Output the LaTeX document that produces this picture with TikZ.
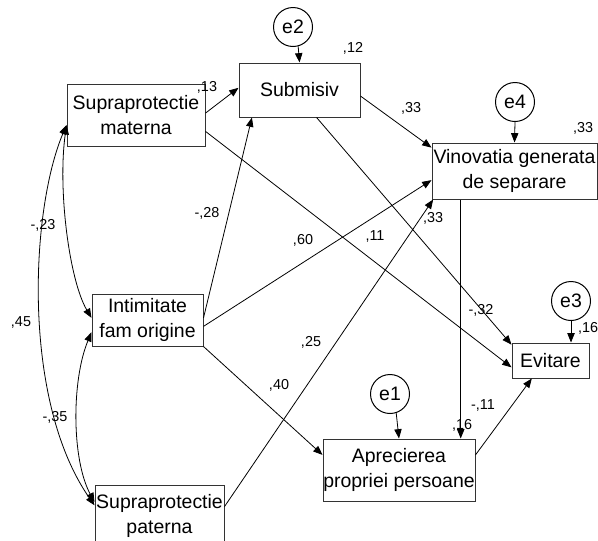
\documentclass[tikz,border=0pt]{standalone}
\usepackage{fontspec}
\setmainfont{Liberation Sans}
\usetikzlibrary{arrows.meta,calc}
\begin{document}
\begin{tikzpicture}[x=0.75pt,y=-0.75pt,
  var/.style={draw=black!80, line width=0.75pt, inner sep=0pt, align=center, font=\fontsize{14.6}{18.75}\selectfont},
  err/.style={draw, circle, line width=0.75pt, minimum size=29.25pt, inner sep=0pt, font=\fontsize{14.6}{18.75}\selectfont},
  coef/.style={inner sep=0pt, font=\fontsize{10.8}{12}\selectfont},
  arr/.style={line width=0.6pt, -{Triangle[length=7pt,width=5.5pt]}},
  cov/.style={line width=0.6pt, {Triangle[length=7pt,width=5.5pt]}-{Triangle[length=7pt,width=5.5pt]}},
]
\useasboundingbox (0,0) rectangle (598,540);
\clip (0,0) rectangle (598,540);
\fill[white] (0,0) rectangle (598,540);

% observed variables
\node[var, minimum width=103.5pt, minimum height=46.5pt] (sm) at (136,115) {Supraprotectie\\materna};
\node[var, minimum width=90.75pt, minimum height=40.5pt] (sub) at (299.5,90) {Submisiv};
\node[var, minimum width=123.75pt, minimum height=42pt] (vin) at (514.5,171) {Vinovatia generata\\de separare};
\node[var, minimum width=83.25pt, minimum height=39pt] (int) at (147.5,320) {Intimitate\\fam origine};
\node[var, minimum width=96.75pt, minimum height=46.5pt] (sp) at (159.5,516) {Supraprotectie\\paterna};
\node[var, minimum width=57.75pt, minimum height=26.25pt] (ev) at (550.5,360.5) {Evitare};
\node[var, minimum width=114pt, minimum height=46.5pt] (ap) at (399,470) {Aprecierea\\propriei persoane};

% error terms
\node[err] (e2) at (293,27) {e2};
\node[err] (e4) at (515,102) {e4};
\node[err] (e3) at (571,301) {e3};
\node[err] (e1) at (390,394) {e1};

% error arrows
\draw[arr] (e2.285) -- (sub.north);
\draw[arr] (e4.south) -- (vin.north);
\draw[arr] (e3.south) -- (e3.south |- ev.north);
\draw[arr] (e1.288) -- (ap.north);

% regression paths
\draw[arr] ($(sm.north east)!0.47!(sm.south east)$) -- ($(sub.north west)!0.46!(sub.south west)$);
\draw[arr] ($(sm.north east)!0.76!(sm.south east)$) -- ($(ev.north west)!0.69!(ev.south west)$);
\draw[arr] ($(int.north east)!0.46!(int.south east)$) -- ($(sub.south west)!0.11!(sub.south east)$);
\draw[arr] ($(int.north east)!0.62!(int.south east)$) -- ($(vin.north west)!0.66!(vin.south west)$);
\draw[arr] (int.south east) -- ($(ap.north west)!0.26!(ap.south west)$);
\draw[arr] ($(sp.north east)!0.35!(sp.south east)$) -- ($(vin.south west)!0.01!(vin.south east)$);
\draw[arr] ($(sub.north east)!0.61!(sub.south east)$) -- ($(vin.north west)!0.09!(vin.south west)$);
\draw[arr] ($(sub.south west)!0.64!(sub.south east)$) -- ($(ev.north west)!0.06!(ev.south west)$);
\coordinate (vv) at ($(vin.south west)!0.176!(vin.south east)$);
\draw[arr] (vv) -- (vv |- ap.north);
\draw[arr] ($(ap.north east)!0.26!(ap.south east)$) -- ($(ev.south west)!0.26!(ev.south east)$);

% covariances
\draw[cov] ($(sm.north west)!0.66!(sm.south west)$) .. controls +(-9,65) and +(-22,-37) .. ($(int.north west)!0.46!(int.south west)$);
\draw[cov] ($(sm.north west)!0.66!(sm.south west)$) .. controls +(-36,85) and +(-73,-105) .. ($(sp.north west)!0.33!(sp.south west)$);
\draw[cov] ($(int.north west)!0.73!(int.south west)$) .. controls +(-20,48) and +(-23,-43) .. ($(sp.north west)!0.28!(sp.south west)$);

% coefficients
\node[coef] (c13) at (207,87) {,13};
\node[coef] (c12) at (353,48) {,12};
\node[coef] (c33a) at (411,108) {,33};
\node[coef] (c33b) at (583,128) {,33};
\node[coef] (c33c) at (433,218) {,33};
\node[coef] (c11) at (375,236) {,11};
\node[coef] (c60) at (303,240) {,60};
\node[coef] (c28) at (207,213) {-,28};
\node[coef] (c23) at (43,225) {-,23};
\node[coef] (c45) at (21,322) {,45};
\node[coef] (c35) at (55,417) {-,35};
\node[coef] (c40) at (279,385) {,40};
\node[coef] (c25) at (311,342) {,25};
\node[coef] (c32) at (481,310) {-,32};
\node[coef] (c16a) at (588,328) {,16};
\node[coef] (c11b) at (483,405) {-,11};
\node[coef] (c16b) at (462,425) {,16};
\end{tikzpicture}
\end{document}
